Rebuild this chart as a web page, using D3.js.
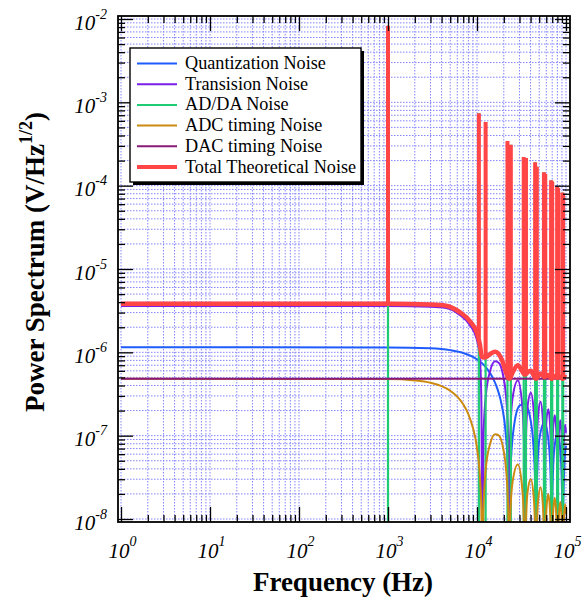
<!DOCTYPE html>
<html lang="en">
<head>
<meta charset="UTF-8">
<title>noise-spectrum</title>
<script src="https://cdn.jsdelivr.net/npm/d3@7"></script>
<style>
  body { margin: 0; background: #fff; }
  text { font-family: 'Liberation Serif', 'Times New Roman', 'DejaVu Serif', serif; fill: #000; }
</style>
</head>
<body>
<script>
// ---- data ----
let seriesNames = ['Quantization Noise', 'Transision Noise', 'AD/DA Noise',
  'ADC timing Noise', 'DAC timing Noise', 'Total Theoretical Noise'];

let quantFreq = [1, 1000, 3000, 5000, 7000, 9000, 11000, 13000, 15000, 17000, 19000, 21000, 22200, 23000, 23800,
  26000, 30000, 34500, 39000, 43000, 45000, 46000, 47000, 50000, 57500, 65000, 68000, 69000, 70000,
  74000, 80500, 87000, 91000, 92000, 93000, 97000, 100000];
let quantVal = [1.15e-6, 1.146e-6, 1.118e-6, 1.063e-6, 9.83e-7, 8.82e-7, 7.64e-7, 6.34e-7, 4.98e-7, 3.62e-7, 2.3e-7, 1.08e-7, 4.1e-8, 1e-9, 3.9e-8,
  1.29e-7, 2.29e-7, 2.44e-7, 1.76e-7, 7.8e-8, 2.55e-8, 1e-9, 2.45e-8, 8.8e-8, 1.46e-7, 6.7e-8, 1.7e-8, 1e-9, 1.6e-8,
  7.2e-8, 1.05e-7, 6.1e-8, 1.25e-8, 1e-9, 1.22e-8, 5.5e-8, 7.5e-8];

let transFreq = [1, 1000, 3000, 4500, 6400, 8300, 10000, 10800, 11200, 11500, 11800, 12500, 14000, 16000, 17500, 19500,
  21500, 22500, 23000, 23500, 25000, 28750, 32500, 34000, 34500, 35000, 37000, 40250, 43500, 45500, 46000, 46500,
  48500, 51750, 55000, 57000, 57500, 58000, 60500, 63250, 66000, 68500, 69000, 69500, 72000, 74750, 77500,
  80000, 80500, 81000, 83500, 86250, 89000, 91500, 92000, 92500, 95000, 97750, 100000];
let transVal = [3.6e-6, 3.59e-6, 3.52e-6, 3.41e-6, 2.81e-6, 2.13e-6, 1.41e-6, 8.1e-7, 2.5e-7, 1e-9, 9.1e-8, 2.85e-7, 5.9e-7, 7.8e-7, 7.5e-7, 5.5e-7,
  2.45e-7, 8.0e-8, 1e-9, 7.6e-8, 2.75e-7, 4.58e-7, 2.1e-7, 5.2e-8, 1e-9, 5.1e-8, 2.25e-7, 3.27e-7, 1.9e-7, 3.9e-8, 1e-9, 3.8e-8,
  1.71e-7, 2.55e-7, 1.51e-7, 3.1e-8, 1e-9, 3.1e-8, 1.59e-7, 2.08e-7, 1.46e-7, 2.6e-8, 1e-9, 2.6e-8, 1.34e-7, 1.76e-7, 1.24e-7,
  2.2e-8, 1e-9, 2.2e-8, 1.15e-7, 1.53e-7, 1.08e-7, 1.9e-8, 1e-9, 1.9e-8, 1.01e-7, 1.35e-7, 1.08e-7];

let adcFreq = [1, 1000, 2000, 3000, 4000, 5000, 6000, 7000, 8000, 9000, 10000, 10800, 11200, 11500, 11800, 12500, 14000,
  16000, 17500, 19500, 21500, 22500, 23000, 23500, 25000, 28750, 32500, 34000, 34500, 35000, 37000, 40250, 43500,
  45500, 46000, 46500, 48500, 51750, 55000, 57000, 57500, 58000, 60500, 63250, 66000, 68500, 69000, 69500, 72000,
  74750, 77500, 80000, 80500, 81000, 83500, 86250, 89000, 91500, 92000, 92500, 95000, 97750, 100000];
let adcVal = [4.83e-7, 4.77e-7, 4.59e-7, 4.31e-7, 3.93e-7, 3.46e-7, 2.94e-7, 2.38e-7, 1.81e-7, 1.24e-7, 7.1e-8, 3.1e-8, 1.28e-8, 1e-9, 1.22e-8, 3.8e-8, 7.9e-8,
  1.04e-7, 1.01e-7, 7.4e-8, 3.3e-8, 1.07e-8, 1e-9, 9e-9, 2.7e-8, 4.5e-8, 2.1e-8, 5e-9, 1e-9, 5e-9, 2.1e-8, 3.0e-8, 1.75e-8,
  4e-9, 1e-9, 4e-9, 1.6e-8, 2.4e-8, 1.45e-8, 3e-9, 1e-9, 3e-9, 1.4e-8, 2.0e-8, 1.3e-8, 3e-9, 1e-9, 3e-9, 1.3e-8,
  1.8e-8, 1.2e-8, 2.5e-9, 1e-9, 2.5e-9, 1.15e-8, 1.6e-8, 1.1e-8, 2.5e-9, 1e-9, 2.5e-9, 1.05e-8, 1.5e-8, 1.15e-8];

let dacFreq = [1, 100000];
let dacVal = [4.83e-7, 4.83e-7];

let totalFreq = transFreq;
let totalVal = [3.84e-6, 3.84e-6, 3.75e-6, 3.63e-6, 3.04e-6, 2.375e-6, 1.70e-6, 1.22e-6, 9.27e-7, 8.77e-7, 8.66e-7, 8.72e-7, 9.53e-7, 1.018e-6, 9.56e-7, 7.62e-7,
  5.48e-7, 4.9e-7, 4.83e-7, 4.9e-7, 5.64e-7, 7.0e-7, 5.83e-7, 5.45e-7, 5.41e-7, 5.41e-7, 5.75e-7, 6.03e-7, 5.23e-7, 4.85e-7, 4.83e-7, 4.85e-7,
  5.15e-7, 5.59e-7, 5.26e-7, 5.06e-7, 5.04e-7, 5.06e-7, 5.24e-7, 5.34e-7, 5.07e-7, 4.84e-7, 4.83e-7, 4.84e-7, 5.03e-7, 5.2e-7, 5.08e-7,
  4.94e-7, 4.94e-7, 4.94e-7, 5.05e-7, 5.11e-7, 4.96e-7, 4.84e-7, 4.83e-7, 4.84e-7, 4.94e-7, 5.05e-7, 5.0e-7];

// spurious tones (AD/DA noise) and the total line's level under each of them
let spikeFreq = [1000, 10500, 12500, 22000, 24000, 33500, 35500, 45000, 47000, 56500, 58500, 68000, 70000, 79500, 81500, 91000, 93000];
let spikePeak = [8.3e-3, 7.39e-4, 5.81e-4, 3.44e-4, 3.10e-4, 2.21e-4, 2.15e-4, 1.91e-4, 1.69e-4, 1.45e-4, 1.38e-4, 1.16e-4, 1.12e-4, 9.8e-5, 9.4e-5, 8.3e-5, 8.0e-5];
let spikeFloor = [3.84e-6, 1.5e-6, 8.7e-7, 5.12e-7, 5.08e-7, 5.54e-7, 5.46e-7, 4.9e-7, 4.9e-7, 5.09e-7, 5.09e-7, 4.9e-7, 4.9e-7, 4.95e-7, 4.95e-7, 4.85e-7, 4.85e-7];

let xMajor = [1, 10, 100, 1e3, 1e4, 1e5];
let xExpLabels = ['0', '1', '2', '3', '4', '5'];
let yMajor = [1e-8, 1e-7, 1e-6, 1e-5, 1e-4, 1e-3, 1e-2];
let yExpLabels = ['-8', '-7', '-6', '-5', '-4', '-3', '-2'];

// ---- styles ----
let seriesColors = ['#1f5cff', '#7a1ee8', '#1fcc74', '#cc8a10', '#8a1a78', '#ff4545'];
let seriesWidths = [2, 2, 2.2, 2, 2, 4.5];

let width = 582;
let height = 602;
let frame = {left: 118, right: 570, top: 16, bottom: 522};
let plot = {left: 121, right: 566, top: 19, bottom: 519};

let svg = d3.select('body')
  .append('svg')
  .attr('width', width)
  .attr('height', height);

svg.append('rect').attr('width', width).attr('height', height).attr('fill', '#fff');

let x = d3.scaleLog().domain([1, 1e5]).range([plot.left, plot.right]);
let y = d3.scaleLog().domain([1e-8, 1e-2]).range([plot.bottom, plot.top]);

function minors(majors) {
  let out = [];
  majors.slice(0, -1).forEach(function (m) {
    for (let k = 2; k <= 9; k++) out.push(m * k);
  });
  return out;
}
let xMinor = minors(xMajor);
let yMinor = minors(yMajor);

// grid
let grid = svg.append('g')
  .attr('stroke', '#7070ff')
  .attr('stroke-width', 1)
  .attr('stroke-dasharray', '1.5,1.5')
  .attr('opacity', 0.85);

grid.selectAll('line.gx')
  .data(xMajor.concat(xMinor))
  .enter().append('line')
  .attr('x1', d => x(d)).attr('x2', d => x(d))
  .attr('y1', plot.top).attr('y2', plot.bottom);

grid.selectAll('line.gy')
  .data(yMajor.concat(yMinor))
  .enter().append('line')
  .attr('y1', d => y(d)).attr('y2', d => y(d))
  .attr('x1', plot.left).attr('x2', plot.right);

// curves
svg.append('clipPath').attr('id', 'clip')
  .append('rect')
  .attr('x', frame.left).attr('y', frame.top)
  .attr('width', frame.right - frame.left)
  .attr('height', frame.bottom - frame.top);

let curves = svg.append('g').attr('clip-path', 'url(#clip)');

let line = d3.line()
  .x(d => x(d[0]))
  .y(d => y(d[1]))
  .curve(d3.curveMonotoneX);

function drawSeries(freqs, vals, i) {
  curves.append('path')
    .datum(d3.zip(freqs, vals))
    .attr('fill', 'none')
    .attr('stroke', seriesColors[i])
    .attr('stroke-width', seriesWidths[i])
    .attr('stroke-linejoin', 'round')
    .attr('d', line);
}

drawSeries(quantFreq, quantVal, 0);
drawSeries(transFreq, transVal, 1);

// AD/DA noise: only the tones rise above the axis floor
curves.selectAll('line.adda')
  .data(d3.zip(spikeFreq, spikePeak))
  .enter().append('line')
  .attr('stroke', seriesColors[2])
  .attr('stroke-width', seriesWidths[2])
  .attr('x1', d => x(d[0])).attr('x2', d => x(d[0]))
  .attr('y1', y(1e-9)).attr('y2', d => y(d[1]));

drawSeries(adcFreq, adcVal, 3);
drawSeries(dacFreq, dacVal, 4);
drawSeries(totalFreq, totalVal, 5);

curves.selectAll('line.tone')
  .data(d3.zip(spikeFreq, spikeFloor, spikePeak))
  .enter().append('line')
  .attr('stroke', seriesColors[5])
  .attr('stroke-width', 4)
  .attr('x1', d => x(d[0])).attr('x2', d => x(d[0]))
  .attr('y1', d => y(d[1])).attr('y2', d => y(d[2]));

// frame + inward ticks on all four sides
svg.append('rect')
  .attr('x', frame.left).attr('y', frame.top)
  .attr('width', frame.right - frame.left)
  .attr('height', frame.bottom - frame.top)
  .attr('fill', 'none')
  .attr('stroke', '#000')
  .attr('stroke-width', 1.8);

function tickAxis(axisFn, scale, values, size, transform) {
  let g = svg.append('g')
    .attr('transform', transform)
    .call(axisFn(scale).tickValues(values).tickSize(size).tickSizeOuter(0).tickFormat(''));
  g.select('.domain').remove();
  g.selectAll('line').attr('stroke', '#000').attr('stroke-width', 1.3);
}

tickAxis(d3.axisBottom, x, xMajor, -15, 'translate(0,' + frame.bottom + ')');
tickAxis(d3.axisBottom, x, xMinor, -7, 'translate(0,' + frame.bottom + ')');
tickAxis(d3.axisTop, x, xMajor, -15, 'translate(0,' + frame.top + ')');
tickAxis(d3.axisTop, x, xMinor, -7, 'translate(0,' + frame.top + ')');
tickAxis(d3.axisLeft, y, yMajor, -15, 'translate(' + frame.left + ',0)');
tickAxis(d3.axisLeft, y, yMinor, -7, 'translate(' + frame.left + ',0)');
tickAxis(d3.axisRight, y, yMajor, -15, 'translate(' + frame.right + ',0)');
tickAxis(d3.axisRight, y, yMinor, -7, 'translate(' + frame.right + ',0)');

// tick labels: 10 with a raised exponent
let xLabels = svg.append('g').attr('font-style', 'italic');
xMajor.forEach(function (v, i) {
  let t = xLabels.append('text')
    .attr('x', x(v) - 12.5)
    .attr('y', 558)
    .attr('font-size', 21);
  t.append('tspan').text('10');
  t.append('tspan').attr('dy', -12).attr('font-size', 14).text(xExpLabels[i]);
});

let yLabels = svg.append('g').attr('font-style', 'italic');
yMajor.forEach(function (v, i) {
  let t = yLabels.append('text')
    .attr('x', 107)
    .attr('y', y(v) + 10.5)
    .attr('text-anchor', 'end')
    .attr('font-size', 21);
  t.append('tspan').text('10');
  t.append('tspan').attr('dy', -11).attr('font-size', 14).text(yExpLabels[i]);
});

// axis titles
svg.append('text')
  .attr('x', 343)
  .attr('y', 591)
  .attr('text-anchor', 'middle')
  .attr('font-size', 27)
  .attr('font-weight', 'bold')
  .text('Frequency (Hz)');

let yTitle = svg.append('text')
  .attr('transform', 'translate(44,262) rotate(-90)')
  .attr('text-anchor', 'middle')
  .attr('font-size', 27)
  .attr('font-weight', 'bold');
yTitle.append('tspan').text('Power Spectrum (V/Hz');
yTitle.append('tspan').attr('dy', -12).attr('font-size', 18).text('1/2');
yTitle.append('tspan').attr('dy', 12).text(')');

// legend
let legend = svg.append('g');
legend.append('rect')
  .attr('x', 133).attr('y', 51).attr('width', 231).attr('height', 134)
  .attr('fill', '#000');
legend.append('rect')
  .attr('x', 130).attr('y', 48).attr('width', 231).attr('height', 134)
  .attr('fill', '#fff').attr('stroke', '#000').attr('stroke-width', 1.4);

seriesNames.forEach(function (name, i) {
  let ly = 63.5 + i * 20.7;
  legend.append('line')
    .attr('x1', 137).attr('x2', 177)
    .attr('y1', ly).attr('y2', ly)
    .attr('stroke', seriesColors[i])
    .attr('stroke-width', i === 5 ? 4 : 2);
  legend.append('text')
    .attr('x', 185)
    .attr('y', ly + 5.5)
    .attr('font-size', 18.2)
    .text(name);
});
</script>
</body>
</html>
